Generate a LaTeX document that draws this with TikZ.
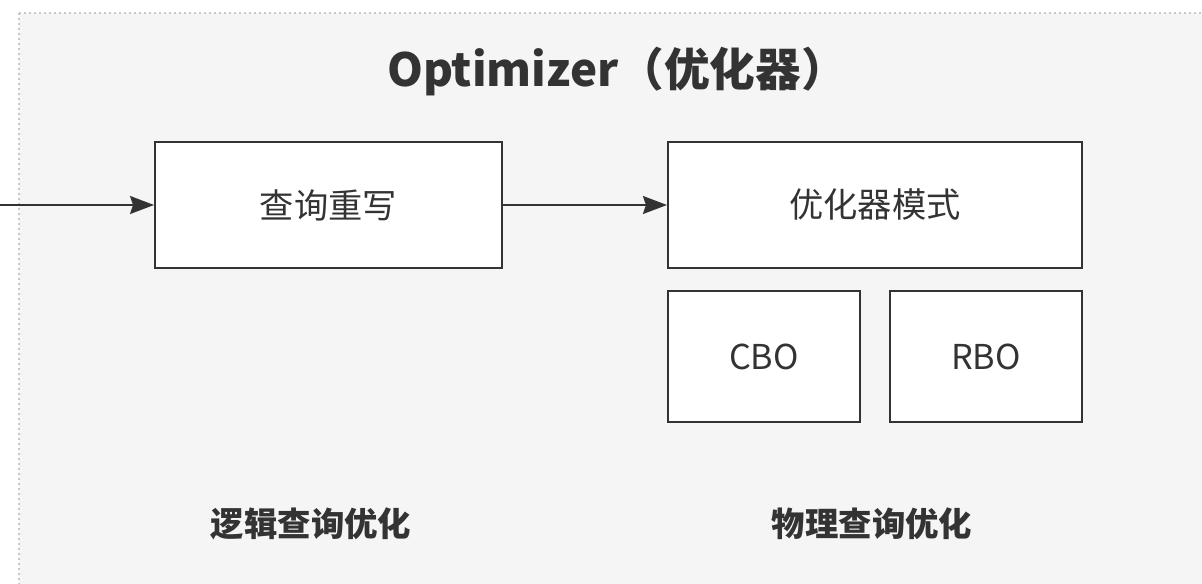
\documentclass[tikz,border=0pt]{standalone}
\usepackage{fontspec}
\setmainfont{Noto Sans CJK SC}
\usepackage{xcolor}
\definecolor{optBg}{HTML}{F5F5F5}
\definecolor{optEdge}{HTML}{C8C8C8}
\definecolor{optInk}{HTML}{333333}
\usetikzlibrary{arrows.meta, positioning, shadows}

\begin{document}
\begin{tikzpicture}[
  x=0.02cm, y=-0.02cm,
  box/.style={draw=optInk, line width=0.04cm, fill=white, minimum height=2.52cm, align=center,
    text=optInk, font=\fontsize{19.5pt}{24pt}\selectfont,
    drop shadow={shadow xshift=0.03cm, shadow yshift=-0.03cm, opacity=0.25, fill=black}},
  smallbox/.style={box, minimum width=3.84cm, minimum height=2.62cm},
  label/.style={text=optInk, font=\fontsize{19pt}{24pt}\selectfont\bfseries},
  flow/.style={-{Stealth[length=0.48cm, width=0.36cm, inset=0.06cm]}, line width=0.035cm, draw=optInk},
]
  \useasboundingbox (0,0) rectangle (1202,584);
  % container
  \draw[fill=optBg, draw=optEdge, line width=0.03cm, dash pattern=on 0.04cm off 0.06cm] (19,13) rectangle (1230,620);
  \node[text=optInk, font=\fontsize{26pt}{32pt}\selectfont\bfseries] (title) at (617,72) {Optimizer（优化器）};

  \node[box, minimum width=6.94cm] (rewrite) at (328.5,205) {查询重写};
  \node[box, minimum width=8.28cm, right=3.28cm of rewrite] (mode) {优化器模式};
  \node[smallbox, below=0.42cm of mode.south west, anchor=north west] (cbo) {CBO};
  \node[smallbox, below=0.42cm of mode.south east, anchor=north east] (rbo) {RBO};

  \node[label] (logic) at (311,524) {逻辑查询优化};
  \node[label] (phys) at (872,524) {物理查询优化};

  \coordinate (in) at (0,205);
  \draw[flow] (in) -- (rewrite);
  \draw[flow] (rewrite) -- (mode);
\end{tikzpicture}
\end{document}
